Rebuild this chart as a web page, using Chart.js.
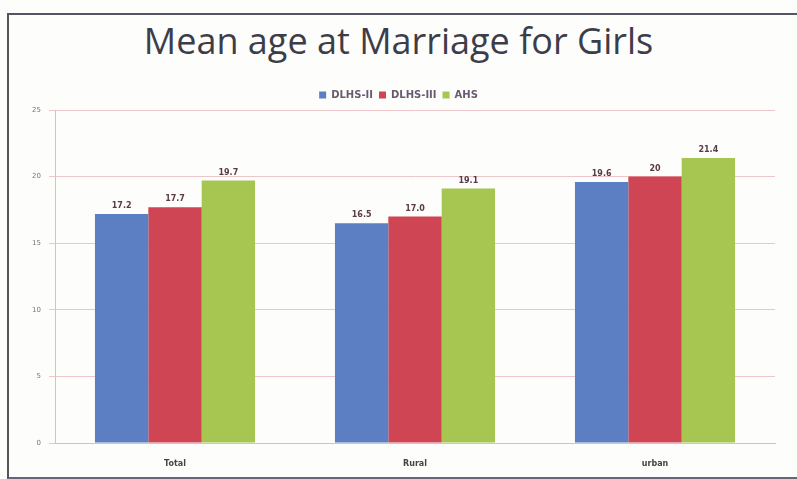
<!DOCTYPE html>
<html>
<head>
<meta charset="utf-8">
<script src="https://cdn.jsdelivr.net/npm/chart.js@4.4.0/dist/chart.umd.min.js"></script>
<style>
  body { margin: 0; background: #fdfdfb; width: 797px; height: 479px; overflow: hidden; position: relative; }
  #frame { position: absolute; left: 7px; top: 13px; width: 800px; height: 462px; border-left: 2px solid #555; border-top: 2px solid #556; border-bottom: 2px solid #667; }
  #title { position: absolute; left: 0; width: 797px; top: 16px; line-height: 50px; text-align: center; font-family: "Open Sans", sans-serif; font-size: 36px; color: #3d3d4a; }
  #wrap { position: absolute; left: 0; top: 0; width: 797px; height: 479px; }
</style>
</head>
<body>
<div id="frame"></div>
<div id="title">Mean age at Marriage for Girls</div>
<div id="wrap"><canvas id="chart"></canvas></div>
<script>
// categories and series
const categories = ["Total", "Rural", "urban"];
const dlhs2 = [17.2, 16.5, 19.6];
const dlhs3 = [17.7, 17.0, 20];
const ahs = [19.7, 19.1, 21.4];
// how the numbers are printed above the bars
const dlhs2Text = ["17.2", "16.5", "19.6"];
const dlhs3Text = ["17.7", "17.0", "20"];
const ahsText = ["19.7", "19.1", "21.4"];
const yTicks = [0, 5, 10, 15, 20, 25];

// draws the small value labels on top of each bar
const valueLabels = {
    id: "valueLabels",
    afterDatasetsDraw(chart) {
        const ctx = chart.ctx;
        ctx.save();
        ctx.font = "bold 8px 'DejaVu Sans', sans-serif";
        ctx.fillStyle = "#5a3a48";
        ctx.textAlign = "center";
        ctx.textBaseline = "bottom";
        chart.data.datasets.forEach((ds, i) => {
            chart.getDatasetMeta(i).data.forEach((bar, j) => {
                ctx.fillText(ds.valueText[j], bar.x, bar.y - 4);
            });
        });
        ctx.restore();
    }
};

new Chart(document.getElementById("chart"), {
    type: "bar",
    data: {
        labels: categories,
        datasets: [
            { label: "DLHS-II", data: dlhs2, valueText: dlhs2Text, backgroundColor: "#5b7fc2" },
            { label: "DLHS-III", data: dlhs3, valueText: dlhs3Text, backgroundColor: "#cf4553" },
            { label: "AHS", data: ahs, valueText: ahsText, backgroundColor: "#a6c651" }
        ]
    },
    options: {
        responsive: true,
        maintainAspectRatio: false,
        animation: false,
        layout: { padding: { left: 22, right: 22, top: 84, bottom: 4 } },
        datasets: { bar: { categoryPercentage: 0.667, barPercentage: 1.0 } },
        plugins: {
            legend: {
                position: "top",
                labels: {
                    boxWidth: 7, boxHeight: 7,
                    font: { family: "'DejaVu Sans', sans-serif", size: 10, weight: "bold" },
                    color: "#6a5a70",
                    padding: 6
                }
            },
            tooltip: { enabled: false }
        },
        scales: {
            y: {
                min: 0, max: 25,
                afterFit(scale) { scale.width = 33; },
                afterBuildTicks(scale) { scale.ticks = yTicks.map(v => ({ value: v })); },
                ticks: { font: { size: 7, family: "'DejaVu Sans', sans-serif" }, color: "#777", padding: 8 },
                grid: { color: "#edc6cc", tickLength: 6 },
                border: { color: "#e8b9c0" }
            },
            x: {
                afterFit(scale) { scale.height = 32; },
                ticks: { font: { size: 8, family: "'DejaVu Sans', sans-serif", weight: "bold" }, color: "#444", padding: 8 },
                grid: { display: false },
                border: { color: "#e8b9c0" }
            }
        }
    },
    plugins: [valueLabels]
});
</script>
</body>
</html>
